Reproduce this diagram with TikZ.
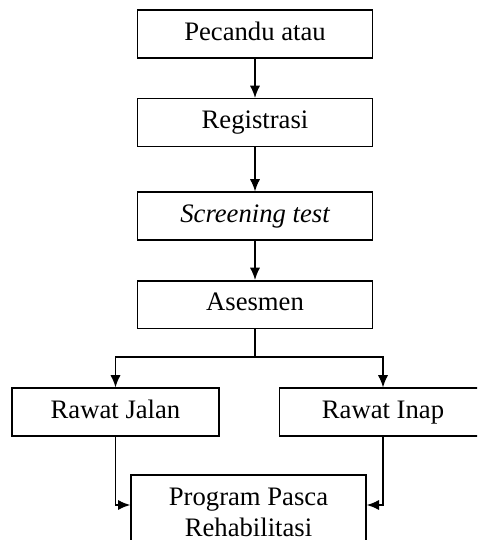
\documentclass[tikz,border=0pt]{standalone}
\usepackage{fontspec}
\setmainfont{Liberation Serif}
\usetikzlibrary{arrows.meta}

\begin{document}
\begin{tikzpicture}[x=0.45pt,y=-0.45pt,line width=0.7pt,
		>={Latex[length=5.5pt,width=4.6pt]},
		box/.style={draw,rectangle,minimum width=105.75pt,minimum height=21.4pt,inner sep=0pt,text height=8.2pt,text depth=2.6pt,font=\fontsize{12}{14}\selectfont},
		sidebox/.style={box,minimum width=93.2pt}]
		\useasboundingbox (0,0) rectangle (477,540);
		\clip (0,0) rectangle (477,540);
		
		\node [box] (pecandu) at (255,34) {Pecandu atau};
		\node [box] (registrasi) at (255,122.5) {Registrasi};
		\node [box] (screening) at (255,216) {\itshape Screening test};
		\node [box] (asesmen) at (255,304.5) {Asesmen};
		
		\node [sidebox] (jalan) at (115.5,412) {Rawat Jalan};
		\node [sidebox] (inap) at (383,412) {Rawat Inap};
		\node [box,text height=,text depth=,minimum height=33.3pt,align=center] (pasca) at (248.5,512) {Program Pasca\\Rehabilitasi};
		
		\draw[->] (pecandu)--(registrasi);
		\draw[->] (registrasi)--(screening);
		\draw[->] (screening)--(asesmen);
		
		\draw[->] (asesmen.south)--++(0,28) -| (jalan.north);
		\draw[->] (asesmen.south)--++(0,28) -| (inap.north);
		
		\draw[->] (jalan.south) |- ([yshift=3.15pt]pasca.west);
		\draw[->] (inap.south) |- ([yshift=3.15pt]pasca.east);
\end{tikzpicture}
\end{document}
